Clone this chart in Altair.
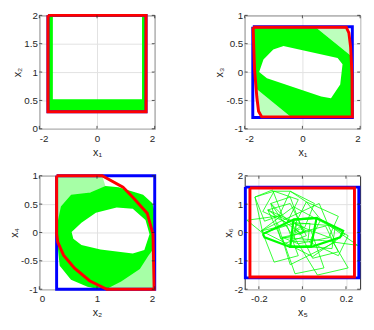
import altair as alt
import pandas as pd

GREEN = "#00ff00"
LIGHT = "#a6ffa6"
LIGHT2 = "#bdffbd"
RED = "#ff0000"
BLUE = "#0000ff"
INK = "#262626"
FONT = "Liberation Sans"

# ---------------- panel 1 : x1 vs x2 ----------------
p1_xdom = [-2, 2]
p1_ydom = [0, 2]
p1_xticks = [-2, 0, 2]
p1_yticks = [0, 0.5, 1, 1.5, 2]
p1_red_x = [-1.70, 1.70, 1.70, -1.70]
p1_red_y = [2.00, 2.00, 0.30, 0.30]
p1_band_out_x = [-1.70, 1.70, 1.70, -1.70]
p1_band_out_y = [2.00, 2.00, 0.30, 0.30]
p1_band_in_x = [-1.53, 1.56, 1.56, -1.53]
p1_band_in_y = [1.97, 1.97, 0.52, 0.52]

# ---------------- panel 2 : x1 vs x3 ----------------
p2_xdom = [-2, 2]
p2_ydom = [-1, 1]
p2_xticks = [-2, 0, 2]
p2_yticks = [-1, -0.5, 0, 0.5, 1]
p2_blue_x = [-1.72, 1.73, 1.73, -1.72]
p2_blue_y = [0.80, 0.80, -0.80, -0.80]
p2_red_x = [-1.71, 1.52, 1.61, 1.67, 1.72, 1.73, -1.41, -1.52, -1.58, -1.66]
p2_red_y = [0.79, 0.79, 0.69, 0.44, -0.05, -0.79, -0.79, -0.69, -0.44, 0.05]
p2_band_out_x = [-1.68, 0.48, 1.70, 1.76, 1.74, -0.43, -1.63, -1.67]
p2_band_out_y = [0.78, 0.78, 0.28, -0.06, -0.78, -0.78, -0.28, 0.06]
p2_hole_x = [-1.50, -1.35, -1.01, -0.66, 1.22, 1.39, 1.31, 0.99, 0.65, -1.23]
p2_hole_y = [0.00, 0.22, 0.40, 0.46, 0.25, 0.14, -0.22, -0.46, -0.43, -0.11]
p2_hatch_a_x = [0.48, 1.52, 1.61, 1.67, 1.70]
p2_hatch_a_y = [0.78, 0.79, 0.69, 0.44, 0.28]
p2_hatch_b_x = [-0.43, -1.41, -1.52, -1.58, -1.63]
p2_hatch_b_y = [-0.78, -0.79, -0.69, -0.44, -0.28]
p2_hatch_c_x = [-1.04, -0.81, -0.43, -0.72]
p2_hatch_c_y = [0.43, 0.61, 0.54, 0.44]
p2_hatch_d_x = [0.37, 0.88, 0.77, 0.48]
p2_hatch_d_y = [-0.47, -0.46, -0.61, -0.60]

# ---------------- panel 3 : x2 vs x4 ----------------
p3_xdom = [0, 2]
p3_ydom = [-1, 1]
p3_xticks = [0, 1, 2]
p3_yticks = [-1, -0.5, 0, 0.5, 1]
p3_blue_x = [0.30, 2.00, 2.00, 0.30]
p3_blue_y = [1.00, 1.00, -1.00, -1.00]
p3_red_x = [0.30, 1.09, 1.45, 1.62, 1.87, 1.97, 1.99, 1.17, 0.87, 0.61, 0.42, 0.32, 0.30]
p3_red_y = [1.00, 1.00, 0.80, 0.62, 0.34, -0.03, -1.00, -1.00, -0.85, -0.63, -0.40, -0.17, -0.03]
p3_band_out_x = [0.32, 0.39, 0.56, 0.89, 1.15, 1.37, 1.79, 1.94, 2.00, 2.00, 1.87, 1.73,
                 1.41, 1.12, 0.84, 0.56, 0.37, 0.34]
p3_band_out_y = [0.11, 0.45, 0.65, 0.69, 0.80, 0.78, 0.65, 0.51, 0.31, -0.23, -0.41, -0.63,
                 -0.85, -1.00, -0.94, -0.82, -0.58, -0.29]
p3_hole_x = [0.56, 0.73, 0.98, 1.34, 1.62, 1.84, 1.91, 1.82, 1.62, 1.06, 0.73, 0.59]
p3_hole_y = [0.01, 0.17, 0.35, 0.44, 0.42, 0.22, -0.03, -0.31, -0.37, -0.30, -0.22, -0.11]
p3_hatch_a_x = [0.30, 1.09, 1.15, 0.89, 0.56, 0.39, 0.32, 0.30]
p3_hatch_a_y = [1.00, 1.00, 0.80, 0.69, 0.65, 0.45, 0.11, -0.03]
p3_hatch_b_x = [2.00, 1.99, 1.12, 1.41, 1.73, 1.87]
p3_hatch_b_y = [-0.23, -1.00, -1.00, -0.85, -0.63, -0.41]

# ---------------- panel 4 : x5 vs x6 ----------------
p4_xdom = [-0.265, 0.265]
p4_ydom = [-2, 2]
p4_xticks = [-0.2, 0, 0.2]
p4_yticks = [-2, -1, 0, 1, 2]
p4_blue_x = [-0.262, 0.259, 0.259, -0.262]
p4_blue_y = [1.60, 1.60, -1.60, -1.60]
p4_red_x = [-0.241, 0.239, 0.239, -0.241]
p4_red_y = [1.57, 1.57, -1.57, -1.57]
p4_traj_x = [-0.100, -0.255, -0.182, -0.071, -0.019, -0.130, -0.182,
             -0.218, -0.137, -0.093, -0.174, -0.218,
             -0.130, -0.019, -0.071, -0.182, -0.130,
             -0.056, 0.055, 0.010, -0.108, -0.056,
             0.018, 0.165, 0.121, -0.034, 0.018,
             0.084, 0.210, 0.165, 0.032, 0.084,
             0.254, 0.092,
             -0.093, 0.040, 0.099, -0.034, -0.093,
             -0.019, 0.128, 0.210, 0.069, -0.019,
             -0.145, -0.056, 0.003, -0.100, -0.145,
             -0.012, 0.106, 0.165, 0.047, -0.012,
             -0.159, -0.056, 0.018, -0.086, -0.159,
             -0.027, 0.151, 0.136, -0.056, -0.027,
             -0.189, -0.041, 0.195, 0.047, -0.189,
             -0.115, 0.077, 0.151, -0.056, -0.115]
p4_traj_y = [0.591, 0.432, -0.023, 0.250, -0.818, -1.045, -0.023,
             1.250, 1.500, 0.625, 0.398, 1.250,
             1.455, 1.159, 0.341, 0.739, 1.455,
             1.455, 1.023, 0.170, 0.568, 1.455,
             1.080, 0.568, -0.170, 0.284, 1.080,
             0.455, -0.114, -0.818, -0.341, 0.455,
             -0.455, -0.284,
             -0.170, 0.057, -1.250, -1.455, -0.170,
             -0.398, -0.170, -1.250, -1.500, -0.398,
             1.023, 1.250, 0.000, -0.227, 1.023,
             0.000, 0.227, -0.682, -0.909, 0.000,
             0.795, 1.023, -0.114, -0.398, 0.795,
             0.341, 0.227, -0.568, -0.455, 0.341,
             0.057, 0.909, -0.057, -0.852, 0.057,
             0.341, 1.023, -0.341, -1.136, 0.341]
p4_eye_x = [-0.182, -0.041, 0.065, 0.187, 0.173, 0.040, -0.056, -0.174, -0.182]
p4_eye_y = [-0.057, 0.455, 0.511, 0.057, -0.170, -0.511, -0.511, -0.170, -0.057]
p4_quad_x = [-0.041, 0.065, 0.040, -0.056, -0.041]
p4_quad_y = [0.455, 0.511, -0.477, -0.511, 0.455]
p4_mid_x = [-0.027, 0.035, 0.025, -0.040, -0.027]
p4_mid_y = [0.30, 0.32, -0.30, -0.32, 0.30]
p4_ring1_x = [-0.040, -0.012, 0.018, -0.012, -0.040]
p4_ring1_y = [0.06, 0.19, 0.06, -0.08, 0.06]
p4_ring2_x = [-0.028, -0.010, 0.008, -0.012, -0.028]
p4_ring2_y = [0.06, 0.13, 0.06, -0.02, 0.06]

W, H = 118, 116
TICK = 3


def df(xs, ys, g=0):
    return pd.DataFrame({"x": xs, "y": ys, "i": list(range(len(xs))), "g": g})


def closed(xs, ys):
    return xs + xs[:1], ys + ys[:1]


def keyhole(ox, oy, ix, iy):
    rx, ry = ix[::-1], iy[::-1]
    return (ox + [ox[0]] + rx + [rx[0]] + [ox[0]],
            oy + [oy[0]] + ry + [ry[0]] + [oy[0]])


def encs(xdom, ydom, xt, yt, xtitle, ytitle):
    return dict(
        x=alt.X("x:Q", scale=alt.Scale(domain=xdom, nice=False, zero=False),
                axis=alt.Axis(values=xt, title=xtitle, labelExpr="'' + datum.value")),
        y=alt.Y("y:Q", scale=alt.Scale(domain=ydom, nice=False, zero=False),
                axis=alt.Axis(values=yt, title=ytitle, labelExpr="'' + datum.value")),
        order=alt.Order("i:Q"),
        detail="g:N",
    )


def fill(data, color, e):
    return alt.Chart(data).mark_line(fill=color, strokeOpacity=0, strokeWidth=0).encode(**e)


def stroke(data, color, width, e):
    return alt.Chart(data).mark_line(color=color, strokeWidth=width).encode(**e)


def inner_ticks(xt, yt, e):
    """MATLAB-style inward tick marks on all four sides of the box."""
    dx = pd.DataFrame({"x": xt})
    dy = pd.DataFrame({"y": yt})
    rule = dict(color=INK, strokeWidth=0.8)
    return [
        alt.Chart(dx).mark_rule(**rule).encode(x=e["x"], y=alt.value(H), y2=alt.value(H - TICK)),
        alt.Chart(dx).mark_rule(**rule).encode(x=e["x"], y=alt.value(0), y2=alt.value(TICK)),
        alt.Chart(dy).mark_rule(**rule).encode(y=e["y"], x=alt.value(0), x2=alt.value(TICK)),
        alt.Chart(dy).mark_rule(**rule).encode(y=e["y"], x=alt.value(W), x2=alt.value(W - TICK)),
    ]


# panel 1
e1 = encs(p1_xdom, p1_ydom, p1_xticks, p1_yticks, "x\u2081", "x\u2082")
c1 = alt.layer(
    fill(df(*keyhole(p1_band_out_x, p1_band_out_y, p1_band_in_x, p1_band_in_y)), GREEN, e1),
    stroke(df(*closed(p1_red_x, p1_red_y)), BLUE, 3, e1),
    stroke(df(*closed(p1_red_x, p1_red_y)), RED, 3, e1),
    *inner_ticks(p1_xticks, p1_yticks, e1),
).properties(width=W, height=H)

# panel 2
e2 = encs(p2_xdom, p2_ydom, p2_xticks, p2_yticks, "x\u2081", "x\u2083")
p2_hatch = pd.concat([df(p2_hatch_a_x, p2_hatch_a_y, 0), df(p2_hatch_b_x, p2_hatch_b_y, 1),
                      df(p2_hatch_c_x, p2_hatch_c_y, 2), df(p2_hatch_d_x, p2_hatch_d_y, 3)])
c2 = alt.layer(
    fill(p2_hatch, LIGHT2, e2),
    fill(df(*keyhole(p2_band_out_x, p2_band_out_y, p2_hole_x, p2_hole_y)), GREEN, e2),
    stroke(df(*closed(p2_blue_x, p2_blue_y)), BLUE, 3, e2),
    stroke(df(*closed(p2_red_x, p2_red_y)), RED, 3, e2),
    *inner_ticks(p2_xticks, p2_yticks, e2),
).properties(width=W, height=H)

# panel 3
e3 = encs(p3_xdom, p3_ydom, p3_xticks, p3_yticks, "x\u2082", "x\u2084")
p3_hatch = pd.concat([df(p3_hatch_a_x, p3_hatch_a_y, 0), df(p3_hatch_b_x, p3_hatch_b_y, 1)])
c3 = alt.layer(
    fill(p3_hatch, LIGHT, e3),
    fill(df(*keyhole(p3_band_out_x, p3_band_out_y, p3_hole_x, p3_hole_y)), GREEN, e3),
    stroke(df(*closed(p3_band_out_x, p3_band_out_y)), GREEN, 2, e3),
    stroke(df(*closed(p3_blue_x, p3_blue_y)), BLUE, 3, e3),
    stroke(df(*closed(p3_red_x, p3_red_y)), RED, 3, e3),
    *inner_ticks(p3_xticks, p3_yticks, e3),
).properties(width=W, height=H)

# panel 4
e4 = encs(p4_xdom, p4_ydom, p4_xticks, p4_yticks, "x\u2085", "x\u2086")
p4_thin = pd.concat([df(p4_traj_x, p4_traj_y, 0), df(p4_mid_x, p4_mid_y, 1),
                     df(p4_ring1_x, p4_ring1_y, 2), df(p4_ring2_x, p4_ring2_y, 3)])
p4_thick = pd.concat([df(p4_eye_x, p4_eye_y, 0), df(p4_quad_x, p4_quad_y, 1)])
c4 = alt.layer(
    stroke(p4_thin, GREEN, 0.8, e4),
    stroke(p4_thick, GREEN, 2.2, e4),
    stroke(df(*closed(p4_blue_x, p4_blue_y)), BLUE, 3, e4),
    stroke(df(*closed(p4_red_x, p4_red_y)), RED, 3, e4),
    *inner_ticks(p4_xticks, p4_yticks, e4),
).properties(width=W, height=H)

chart = alt.concat(
    c1, c2, c3, c4, columns=2, spacing={"row": 48, "column": 92}, bounds="flush"
).properties(
    autosize=alt.AutoSizeParams(type="none"),
    padding={"left": 32, "top": 4, "right": 334, "bottom": 310},
).configure_view(stroke=INK, strokeWidth=1).configure_axis(
    grid=True, gridColor="#e1e1e1", gridWidth=1, domain=False, ticks=False,
    labelFont=FONT, labelFontSize=10, labelColor=INK,
    titleFont=FONT, titleFontSize=11, titleFontWeight="normal", titleColor=INK,
).configure_axisX(labelPadding=5, titlePadding=3).configure_axisY(labelPadding=2, titlePadding=1)

chart.save("out.html", embed_options={"renderer": "svg", "actions": False})
